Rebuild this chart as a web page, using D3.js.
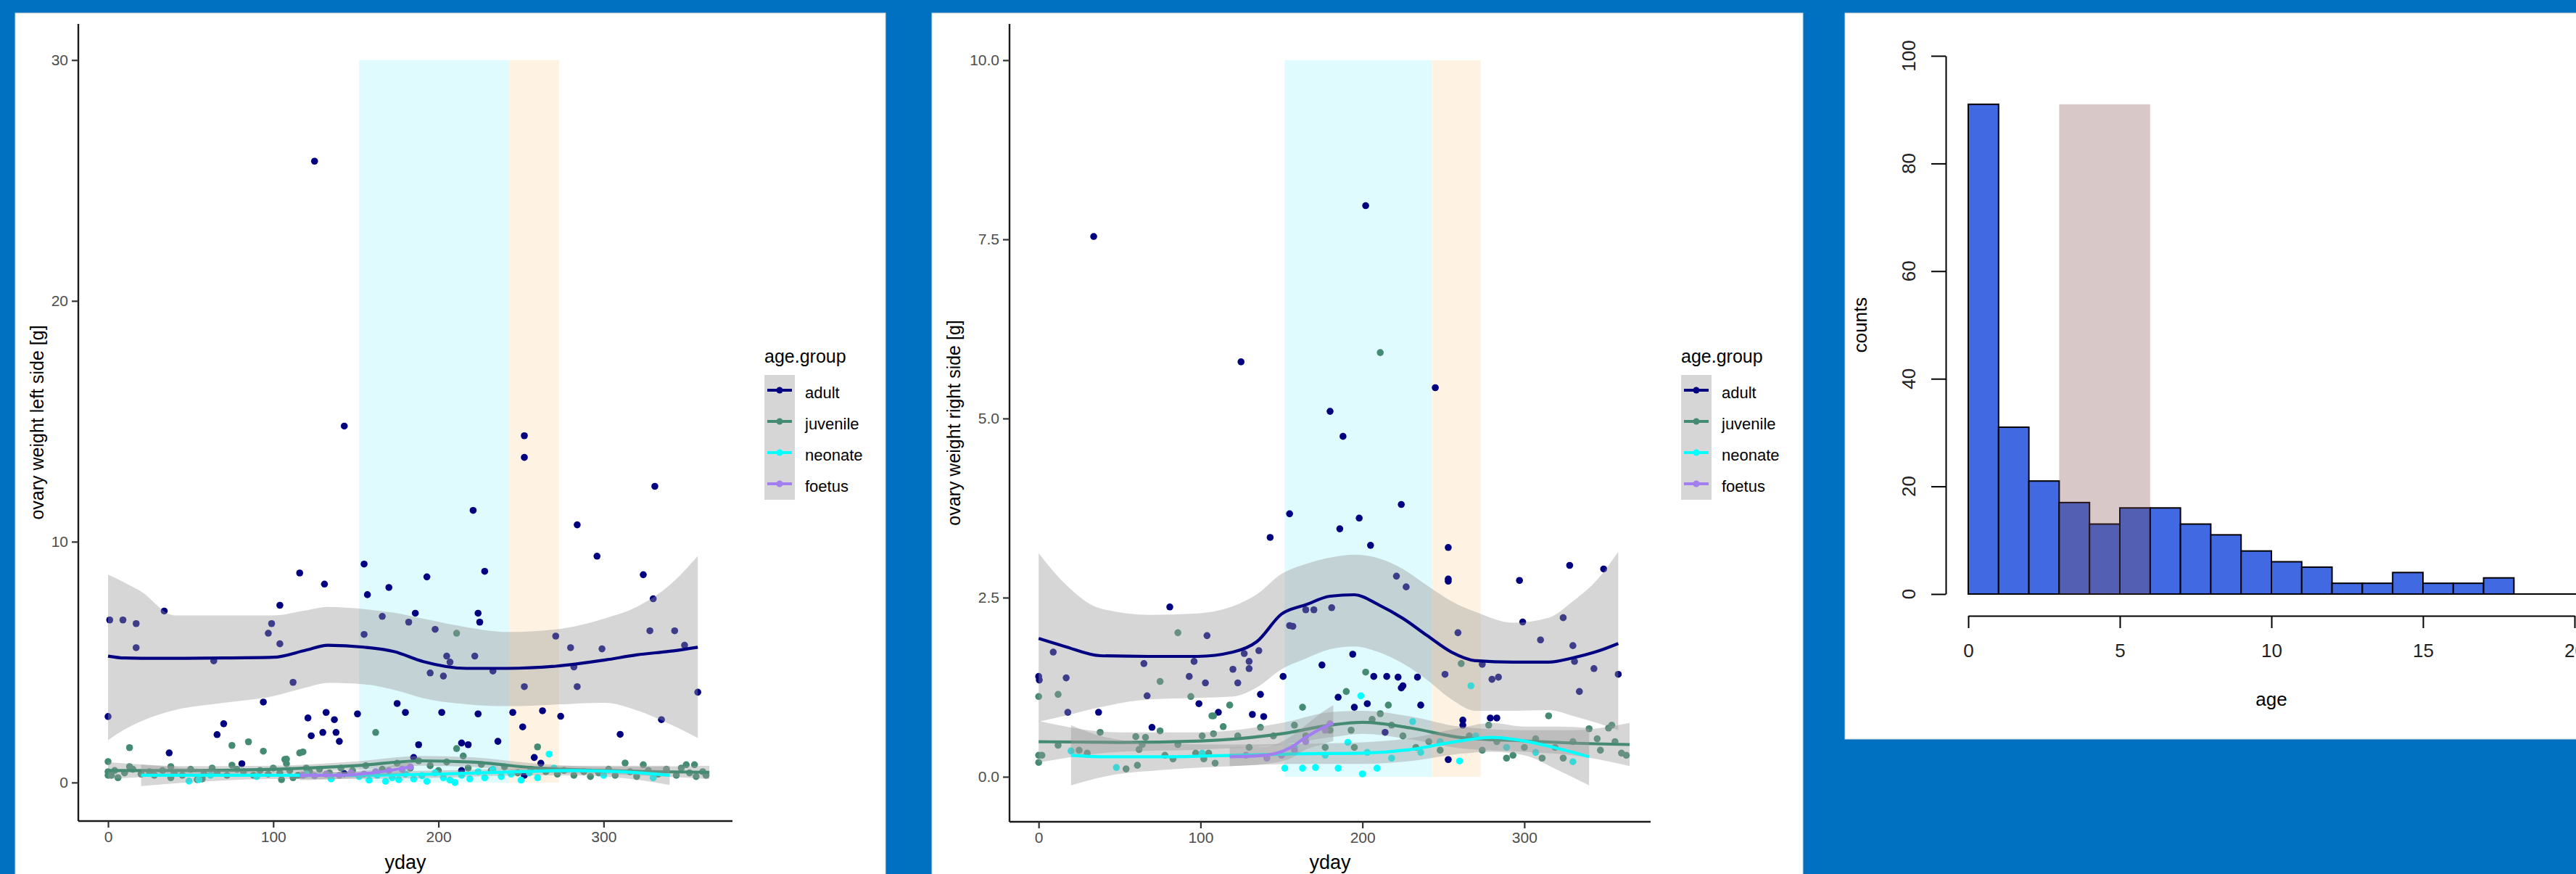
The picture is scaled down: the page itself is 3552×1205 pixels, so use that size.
<!DOCTYPE html>
<html>
<head>
<meta charset="utf-8">
<script src="https://cdn.jsdelivr.net/npm/d3@7"></script>
<style>
  body { margin: 0; background: #0070c0; }
  svg { display: block; font-family: "Liberation Sans", Arial, sans-serif; }
</style>
</head>
<body>
<div id="chart"></div>
<script>

// ---- data ----

var groups = ["adult", "juvenile", "neonate", "foetus"];
var groupColors = ["#000080", "#458b74", "#00ffff", "#a27ef0"];

var summerDays = [152, 243];
var autumnDays = [243, 273];

var ydayTicks = [0, 100, 200, 300];
var leftTicks = [0, 10, 20, 30];
var rightTicks = [0, 2.5, 5, 7.5, 10];
var rightTickLabels = ["0.0", "2.5", "5.0", "7.5", "10.0"];

// left ovary: [yday, weight g]
var leftAdult = [[125,25.8],[143,14.8],[252,14.4],[252,13.5],[331,12.3],[221,11.3],[284,10.7],[296,9.4],[155,9.07],[228,8.77],[116,8.7],[324,8.63],[193,8.54],[131,8.24],[170,8.1],[157,7.8],[330,7.63],[104,7.36],[34,7.12],[186,7.03],[224,7.03],[1,6.75],[9,6.75],[17,6.6],[99,6.6],[166,6.9],[182,6.66],[225,6.66],[198,6.36],[97,6.2],[271,6.08],[328,6.3],[343,6.3],[155,6.15],[17,5.6],[104,5.76],[280,5.6],[299,5.55],[349,5.7],[205,5.25],[222,5.25],[207,5.0],[64,5.05],[282,4.8],[233,4.63],[195,4.55],[203,4.42],[112,4.16],[252,3.98],[284,3.98],[357,3.75],[94,3.34],[175,3.28],[0,2.74],[151,2.85],[180,2.91],[202,2.91],[245,2.91],[263,2.98],[274,2.75],[224,2.85],[132,2.91],[121,2.68],[137,2.61],[335,2.61],[70,2.44],[251,2.31],[66,1.99],[123,1.94],[130,2.08],[138,2.08],[140,1.71],[310,2.0],[236,1.71],[37,1.23],[188,1.57],[214,1.64],[218,1.57],[185,1.04],[258,1.04],[81,0.78],[214,0.5],[252,0.3],[262,0.8],[143,0.37]];
var leftJuvenile = [[211,6.2],[162,2.08],[13,1.45],[75,1.54],[85,1.69],[94,1.3],[118,1.27],[211,1.41],[260,1.48],[0,0.87],[108,0.97],[215,1.1],[313,0.81],[324,0.74],[350,0.74],[355,0.74],[75,0.72],[38,0.66],[107,0.96],[108,0.78],[116,1.23],[13,0.66],[0,0.45],[0,0.3],[54,0.12],[57,0.15],[105,0.12],[112,0.2],[38,0.2],[120,0.6],[2,0.3],[4,0.5],[6,0.2],[10,0.4],[15,0.55],[20,0.35],[25,0.45],[28,0.3],[33,0.5],[40,0.4],[45,0.3],[50,0.55],[58,0.35],[63,0.6],[66,0.4],[72,0.3],[78,0.55],[82,0.45],[88,0.3],[92,0.5],[97,0.35],[100,0.6],[104,0.4],[110,0.5],[115,0.3],[122,0.45],[128,0.55],[134,0.4],[141,0.6],[148,0.5],[156,0.7],[166,0.55],[175,0.8],[183,0.6],[188,0.9],[195,0.7],[200,0.5],[205,0.85],[218,0.6],[226,0.75],[232,0.5],[240,0.65],[248,0.4],[256,0.55],[265,0.45],[272,0.35],[276,0.5],[282,0.3],[288,0.45],[292,0.25],[297,0.4],[303,0.55],[307,0.3],[316,0.45],[320,0.25],[327,0.5],[333,0.35],[338,0.55],[344,0.3],[347,0.6],[352,0.4],[356,0.25],[360,0.45],[362,0.3]];
var leftNeonate = [[49,0.06],[55,0.12],[62,0.3],[90,0.25],[120,0.35],[135,0.15],[152,0.25],[158,0.1],[163,0.3],[168,0.05],[172,0.2],[176,0.12],[180,0.35],[185,0.15],[190,0.28],[193,0.05],[198,0.4],[203,0.2],[207,0.1],[210,0.0],[214,0.3],[219,0.15],[224,0.45],[228,0.2],[233,0.55],[238,0.25],[244,0.35],[250,0.1],[255,0.4],[260,0.2],[267,1.18],[270,0.6],[300,0.3],[330,0.2]];
var leftFoetus = [[118,0.3],[125,0.28],[132,0.35],[140,0.3],[147,0.4],[155,0.35],[162,0.45],[170,0.5],[178,0.55],[183,0.65]];

// right ovary: [yday, weight g]
var rightAdult = [[34,7.54],[202,7.97],[125,5.79],[245,5.43],[180,5.1],[188,4.75],[224,3.8],[155,3.67],[198,3.61],[186,3.46],[143,3.34],[205,3.23],[253,3.2],[253,2.76],[253,2.73],[328,2.95],[349,2.9],[297,2.74],[221,2.8],[227,2.65],[81,2.37],[324,2.22],[299,2.16],[165,2.33],[170,2.33],[181,2.36],[155,2.11],[157,2.1],[104,1.97],[259,2.01],[310,1.91],[330,1.83],[9,1.74],[127,1.72],[194,1.71],[136,1.76],[130,1.61],[65,1.58],[96,1.61],[175,1.56],[274,1.57],[331,1.61],[343,1.51],[120,1.5],[130,1.51],[0,1.4],[0.4,1.35],[17,1.38],[93,1.4],[151,1.4],[207,1.4],[215,1.4],[222,1.39],[234,1.39],[251,1.43],[280,1.36],[284,1.39],[358,1.43],[67,1.13],[103,1.31],[123,1.31],[334,1.19],[225,1.27],[224,1.24],[137,1.15],[185,1.11],[99,1.02],[111,0.9],[132,0.87],[139,0.84],[195,0.97],[203,1.02],[236,1.0],[18,0.9],[37,0.9],[70,0.69],[279,0.82],[283,0.82],[262,0.79],[262,0.72],[253,0.24],[214,0.62]];
var rightJuvenile = [[211,5.92],[86,2.01],[261,1.58],[202,1.46],[0,1.12],[12,1.15],[75,1.33],[94,1.12],[190,1.19],[118,1.0],[163,0.97],[216,1.0],[315,0.85],[108,0.85],[38,0.62],[75,0.64],[107,0.85],[60,0.56],[66,0.55],[114,0.7],[352,0.68],[340,0.67],[12,0.44],[25,0.37],[30,0.33],[54,0.11],[61,0.16],[62,0.38],[83,0.25],[86,0.45],[97,0.33],[101,0.57],[102,0.25],[108,0.6],[109,0.19],[105,0.33],[0,0.3],[0,0.2],[2,0.3],[78,0.3],[64,0.45],[123,0.57],[130,0.41],[137,0.69],[145,0.57],[158,0.72],[165,0.57],[177,0.41],[180,0.65],[193,0.65],[195,0.41],[206,0.8],[211,0.88],[218,0.72],[225,0.57],[233,0.41],[241,0.49],[248,0.37],[266,0.57],[274,0.37],[278,0.72],[283,0.49],[289,0.26],[293,0.3],[300,0.41],[307,0.53],[311,0.26],[319,0.41],[324,0.26],[330,0.49],[345,0.53],[347,0.37],[354,0.72],[356,0.49],[360,0.33],[363,0.3]];
var rightNeonate = [[20,0.36],[48,0.13],[101,0.33],[199,1.13],[267,1.27],[231,0.77],[152,0.12],[163,0.12],[171,0.13],[185,0.12],[200,0.04],[209,0.12],[191,0.48],[260,0.22],[330,0.21],[158,0.41],[177,0.3],[203,0.34],[218,0.26],[236,0.34],[248,0.49],[270,0.57],[289,0.41],[307,0.34]];
var rightFoetus = [[128,0.3],[141,0.26],[150,0.3],[158,0.37],[165,0.49],[177,0.65],[180,0.74]];

// loess curves: [yday, fit, lower, upper]
var leftAdultFit = [[0,5.25,1.76,8.63],[10,5.17,2.2,8.3],[20,5.16,2.54,7.93],[40,5.16,3.0,6.94],[70,5.17,3.31,6.94],[100,5.2,3.59,6.94],[120,5.5,3.95,7.15],[133,5.7,4.14,7.29],[155,5.62,4.08,7.2],[173,5.44,3.85,7.05],[191,5.02,3.5,6.8],[217,4.74,3.25,6.45],[242,4.74,3.17,6.25],[271,4.83,3.24,6.36],[301,5.09,3.31,6.82],[320,5.3,3.0,7.29],[340,5.45,2.43,8.2],[357,5.62,1.85,9.41]];
var leftJuvenileFit = [[0,0.5,0.15,0.85],[50,0.5,0.32,0.68],[100,0.55,0.4,0.7],[150,0.7,0.52,0.88],[190,0.9,0.7,1.1],[220,0.85,0.65,1.05],[260,0.6,0.42,0.78],[300,0.5,0.35,0.65],[364,0.42,0.15,0.7]];
var leftNeonateFit = [[20,0.3,-0.15,0.75],[60,0.3,0.05,0.55],[100,0.3,0.15,0.45],[150,0.3,0.15,0.45],[200,0.35,0.2,0.5],[250,0.45,0.3,0.6],[280,0.5,0.3,0.7],[310,0.45,0.2,0.7],[340,0.3,-0.1,0.7]];
var leftFoetusFit = [[116,0.3,0.1,0.5],[140,0.3,0.15,0.45],[160,0.4,0.25,0.55],[183,0.65,0.4,0.9]];

var rightAdultFit = [[0,1.93,0.77,3.12],[16,1.82,0.85,2.7],[38,1.69,0.97,2.35],[68,1.68,1.08,2.26],[98,1.68,1.1,2.28],[120,1.74,1.12,2.38],[135,1.89,1.25,2.55],[150,2.27,1.5,2.83],[165,2.4,1.65,2.97],[180,2.52,1.78,3.06],[195,2.54,1.82,3.1],[210,2.4,1.74,3.05],[225,2.21,1.58,2.9],[240,1.97,1.35,2.67],[255,1.74,1.08,2.45],[270,1.62,0.92,2.3],[293,1.6,0.92,2.15],[315,1.6,0.93,2.22],[330,1.66,0.85,2.45],[345,1.75,0.75,2.75],[358,1.86,0.65,3.14]];
var rightJuvenileFit = [[0,0.49,0.2,0.78],[50,0.48,0.35,0.62],[100,0.5,0.38,0.62],[150,0.6,0.45,0.75],[180,0.72,0.55,0.9],[200,0.76,0.6,0.92],[230,0.68,0.52,0.84],[260,0.55,0.4,0.7],[300,0.5,0.35,0.65],[330,0.47,0.3,0.65],[365,0.45,0.15,0.75]];
var rightNeonateFit = [[20,0.3,-0.12,0.72],[40,0.28,0.0,0.56],[80,0.28,0.1,0.46],[120,0.3,0.15,0.45],[160,0.32,0.18,0.46],[200,0.33,0.18,0.48],[230,0.38,0.22,0.54],[260,0.5,0.32,0.68],[280,0.55,0.35,0.75],[300,0.5,0.3,0.7],[320,0.4,0.1,0.7],[340,0.28,-0.12,0.68]];
var rightFoetusFit = [[118,0.28,0.15,0.41],[140,0.3,0.18,0.42],[155,0.4,0.25,0.55],[165,0.55,0.38,0.72],[175,0.68,0.45,0.9],[182,0.75,0.5,1.0]];

// age histogram
var ageBins = [0,1,2,3,4,5,6,7,8,9,10,11,12,13,14,15,16,17,18,19];
var ageCounts = [91,31,21,17,13,16,16,13,11,8,6,5,2,2,4,2,2,3,0,0];
var ageTicks = [0, 5, 10, 15, 20];
var countTicks = [0, 20, 40, 60, 80, 100];
var shadeAges = [3, 6];


var width = 3552, height = 1205;

var svg = d3.select("#chart")
    .append("svg")
    .attr("width", width)
    .attr("height", height);

svg.append("rect")
    .attr("width", width)
    .attr("height", height)
    .attr("fill", "#0070c0");


function drawScatter(p) {
    var g = svg.append("g");

    g.append("rect")
        .attr("x", p.box[0]).attr("y", p.box[1])
        .attr("width", p.box[2]).attr("height", p.box[3])
        .attr("fill", "white")
        .attr("stroke", "#d4d4d4");

    var x = d3.scaleLinear().domain([-18, 378]).range([p.left, p.right]);
    var y = d3.scaleLinear().domain(p.ydomain).range([p.bottom, p.top]);

    // season bands
    g.append("rect")
        .attr("x", x(summerDays[0])).attr("y", y(p.bandTop))
        .attr("width", x(summerDays[1]) - x(summerDays[0]))
        .attr("height", y(0) - y(p.bandTop))
        .attr("fill", "#e0fbfd");
    g.append("rect")
        .attr("x", x(autumnDays[0])).attr("y", y(p.bandTop))
        .attr("width", x(autumnDays[1]) - x(autumnDays[0]))
        .attr("height", y(0) - y(p.bandTop))
        .attr("fill", "#fef3e2");

    // points
    p.points.forEach(function(pts, i) {
        g.append("g").selectAll("circle")
            .data(pts)
            .enter().append("circle")
            .attr("cx", function(d) { return x(d[0]); })
            .attr("cy", function(d) { return y(d[1]); })
            .attr("r", 4.8)
            .attr("fill", groupColors[i]);
    });

    // smooth ribbons + lines
    var area = d3.area()
        .x(function(d) { return x(d[0]); })
        .y0(function(d) { return y(d[2]); })
        .y1(function(d) { return y(d[3]); })
        .curve(d3.curveMonotoneX);
    var line = d3.line()
        .x(function(d) { return x(d[0]); })
        .y(function(d) { return y(d[1]); })
        .curve(d3.curveMonotoneX);

    p.fits.forEach(function(f, i) {
        g.append("path")
            .attr("d", area(f))
            .attr("fill", "#999999")
            .attr("fill-opacity", 0.4);
        g.append("path")
            .attr("d", line(f))
            .attr("fill", "none")
            .attr("stroke", groupColors[i])
            .attr("stroke-width", 4.2);
    });

    // axes
    var xAxis = g.append("g")
        .attr("transform", "translate(0," + p.bottom + ")")
        .call(d3.axisBottom(x).tickValues(ydayTicks).tickSize(9).tickPadding(5).tickSizeOuter(0));
    var yAxis = g.append("g")
        .attr("transform", "translate(" + p.left + ",0)")
        .call(d3.axisLeft(y).tickValues(p.yticks).tickFormat(function(d, i) { return p.ylabels[i]; })
            .tickSize(9).tickPadding(5).tickSizeOuter(0));

    [xAxis, yAxis].forEach(function(a) {
        a.select(".domain").attr("stroke", "#1a1a1a").attr("stroke-width", 2.4);
        a.selectAll(".tick line").attr("stroke", "#333").attr("stroke-width", 2.2);
        a.selectAll(".tick text").attr("fill", "#4d4d4d")
            .style("font-size", "21px").style("font-family", "Liberation Sans, Arial, sans-serif");
    });
    xAxis.select(".domain").attr("d", "M" + p.left + ",0H" + p.right);
    yAxis.select(".domain").attr("d", "M0," + p.bottom + "V" + p.top);

    g.append("text")
        .attr("x", (p.left + p.right) / 2).attr("y", 1198)
        .attr("text-anchor", "middle")
        .style("font-size", "27px")
        .text("yday");

    g.append("text")
        .attr("transform", "translate(" + (p.box[0] + 39) + "," + ((p.top + p.bottom) / 2) + ") rotate(-90)")
        .attr("text-anchor", "middle")
        .style("font-size", "25px")
        .text(p.ytitle);

    // legend
    var lg = g.append("g").attr("transform", "translate(" + p.legendX + ",0)");
    lg.append("text").attr("x", 0).attr("y", 500)
        .style("font-size", "25px").text("age.group");
    lg.append("rect").attr("x", 0).attr("y", 517)
        .attr("width", 42).attr("height", 172)
        .attr("fill", "#d6d6d6");
    groups.forEach(function(name, i) {
        var cy = 538 + i * 43;
        lg.append("line")
            .attr("x1", 4).attr("x2", 38).attr("y1", cy).attr("y2", cy)
            .attr("stroke", groupColors[i]).attr("stroke-width", 4.2);
        lg.append("circle").attr("cx", 21).attr("cy", cy).attr("r", 4.5)
            .attr("fill", groupColors[i]);
        lg.append("text").attr("x", 56).attr("y", cy + 11)
            .style("font-size", "22px").text(name);
    });
}

drawScatter({
    box: [21, 18, 1200, 1200],
    left: 108, right: 1010, top: 33, bottom: 1132,
    ydomain: [-1.6, 31.5],
    bandTop: 30,
    yticks: leftTicks, ylabels: ["0", "10", "20", "30"],
    ytitle: "ovary weight left side [g]",
    points: [leftAdult, leftJuvenile, leftNeonate, leftFoetus],
    fits: [leftAdultFit, leftJuvenileFit, leftNeonateFit, leftFoetusFit],
    legendX: 1054
});

drawScatter({
    box: [1285, 18, 1201, 1200],
    left: 1392, right: 2276, top: 33, bottom: 1133,
    ydomain: [-0.628, 10.506],
    bandTop: 10,
    yticks: rightTicks, ylabels: rightTickLabels,
    ytitle: "ovary weight right side [g]",
    points: [rightAdult, rightJuvenile, rightNeonate, rightFoetus],
    fits: [rightAdultFit, rightJuvenileFit, rightNeonateFit, rightFoetusFit],
    legendX: 2318
});


// ---- histogram panel ----
var hg = svg.append("g");
hg.append("rect")
    .attr("x", 2544).attr("y", 18)
    .attr("width", 1020).attr("height", 1001)
    .attr("fill", "white").attr("stroke", "#d4d4d4");

var hx = d3.scaleLinear().domain([0, 20]).range([2714, 3550]);
var hy = d3.scaleLinear().domain([0, 100]).range([819, 77]);

hg.append("g").selectAll("rect")
    .data(ageBins)
    .enter().append("rect")
    .attr("x", function(d) { return hx(d); })
    .attr("y", function(d, i) { return hy(ageCounts[i]); })
    .attr("width", function(d) { return hx(d + 1) - hx(d); })
    .attr("height", function(d, i) { return hy(0) - hy(ageCounts[i]); })
    .attr("fill", "#4169e1")
    .attr("stroke", "black")
    .attr("stroke-width", 2);

hg.append("line")
    .attr("x1", hx(0)).attr("x2", 3552)
    .attr("y1", hy(0)).attr("y2", hy(0))
    .attr("stroke", "black").attr("stroke-width", 2);

hg.append("rect")
    .attr("x", hx(shadeAges[0])).attr("y", hy(d3.max(ageCounts)))
    .attr("width", hx(shadeAges[1]) - hx(shadeAges[0]))
    .attr("height", hy(0) - hy(d3.max(ageCounts)))
    .attr("fill", "#7d4848").attr("fill-opacity", 0.3);

var hxAxis = hg.append("g")
    .attr("transform", "translate(0,849)")
    .call(d3.axisBottom(hx).tickValues(ageTicks).tickSize(17).tickPadding(22).tickSizeOuter(0));
var hyAxis = hg.append("g")
    .attr("transform", "translate(2683,0)")
    .call(d3.axisLeft(hy).tickValues(countTicks).tickSize(20).tickSizeOuter(0).tickFormat(""));

[hxAxis, hyAxis].forEach(function(a) {
    a.select(".domain").attr("stroke", "black").attr("stroke-width", 2);
    a.selectAll(".tick line").attr("stroke", "black").attr("stroke-width", 2);
    a.selectAll(".tick text").attr("fill", "#222")
        .style("font-size", "26px").style("font-family", "Liberation Sans, Arial, sans-serif");
});

hg.append("g").selectAll("text")
    .data(countTicks)
    .enter().append("text")
    .attr("transform", function(d) { return "translate(2632," + hy(d) + ") rotate(-90)"; })
    .attr("text-anchor", "middle")
    .attr("dominant-baseline", "central")
    .attr("fill", "#222")
    .style("font-size", "26px")
    .text(function(d) { return d; });

hg.append("text")
    .attr("x", hx(10)).attr("y", 973)
    .attr("text-anchor", "middle")
    .style("font-size", "26px")
    .text("age");

hg.append("text")
    .attr("transform", "translate(2565," + hy(50) + ") rotate(-90)")
    .attr("text-anchor", "middle")
    .attr("dominant-baseline", "central")
    .style("font-size", "26px")
    .text("counts");

</script>
</body>
</html>
